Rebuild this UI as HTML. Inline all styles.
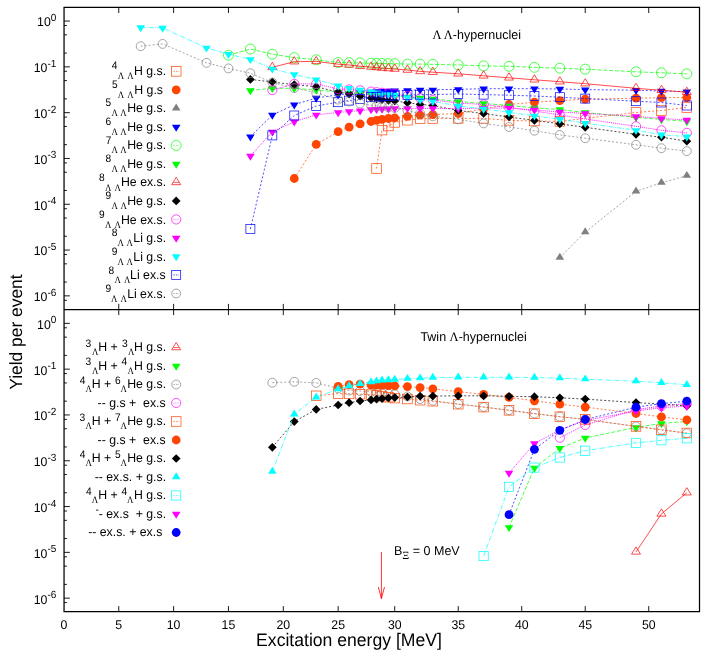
<!DOCTYPE html>
<html><head><meta charset="utf-8"><title>Yield per event</title>
<style>html,body{margin:0;padding:0;background:#fff}svg{display:block;will-change:transform}text{fill:#000;text-rendering:geometricPrecision}</style>
</head><body>
<svg width="706" height="660" viewBox="0 0 706 660">
<rect width="706" height="660" fill="#fff"/>
<g id="top-data">
<path d="M376.55 168.5L382.03 130.1L388.38 126L394.73 122.4L407.43 120.2L420.13 118.8L432.83 118.5L458.23 118.4L483.63 118.4L509.03 120.4L534.43 121L559.83 121.4L585.23 118.4L636.03 112.5L661.43 110.5L686.83 107.5" fill="none" stroke="#ff4500" stroke-width="0.7" stroke-dasharray="2 2"/>
<rect x="371.75" y="163.7" width="9.6" height="9.6" fill="none" stroke="#ff4500" stroke-width="0.7"/>
<rect x="377.23" y="125.3" width="9.6" height="9.6" fill="none" stroke="#ff4500" stroke-width="0.7"/>
<rect x="383.58" y="121.2" width="9.6" height="9.6" fill="none" stroke="#ff4500" stroke-width="0.7"/>
<rect x="389.93" y="117.6" width="9.6" height="9.6" fill="none" stroke="#ff4500" stroke-width="0.7"/>
<rect x="402.63" y="115.4" width="9.6" height="9.6" fill="none" stroke="#ff4500" stroke-width="0.7"/>
<rect x="415.33" y="114" width="9.6" height="9.6" fill="none" stroke="#ff4500" stroke-width="0.7"/>
<rect x="428.03" y="113.7" width="9.6" height="9.6" fill="none" stroke="#ff4500" stroke-width="0.7"/>
<rect x="453.43" y="113.6" width="9.6" height="9.6" fill="none" stroke="#ff4500" stroke-width="0.7"/>
<rect x="478.83" y="113.6" width="9.6" height="9.6" fill="none" stroke="#ff4500" stroke-width="0.7"/>
<rect x="504.23" y="115.6" width="9.6" height="9.6" fill="none" stroke="#ff4500" stroke-width="0.7"/>
<rect x="529.63" y="116.2" width="9.6" height="9.6" fill="none" stroke="#ff4500" stroke-width="0.7"/>
<rect x="555.03" y="116.6" width="9.6" height="9.6" fill="none" stroke="#ff4500" stroke-width="0.7"/>
<rect x="580.43" y="113.6" width="9.6" height="9.6" fill="none" stroke="#ff4500" stroke-width="0.7"/>
<rect x="631.23" y="107.7" width="9.6" height="9.6" fill="none" stroke="#ff4500" stroke-width="0.7"/>
<rect x="656.63" y="105.7" width="9.6" height="9.6" fill="none" stroke="#ff4500" stroke-width="0.7"/>
<rect x="682.03" y="102.7" width="9.6" height="9.6" fill="none" stroke="#ff4500" stroke-width="0.7"/>
<path d="M294.27 178.5L316.21 144.3L338.15 131.7L349.12 127.2L360.09 123.9L371.06 121.5L376.55 120.4L382.03 119.4L388.38 118.5L394.73 117.8L407.43 116.3L420.13 115.1L432.83 114.6L458.23 113.5L483.63 108.9L509.03 104.5L534.43 102.2L559.83 100.6L585.23 99.2L636.03 98.2L661.43 97.6L686.83 97.6" fill="none" stroke="#ff4500" stroke-width="0.7" stroke-dasharray="2 2"/>
<circle cx="294.27" cy="178.5" r="4.4" fill="#ff4500"/>
<circle cx="316.21" cy="144.3" r="4.4" fill="#ff4500"/>
<circle cx="338.15" cy="131.7" r="4.4" fill="#ff4500"/>
<circle cx="349.12" cy="127.2" r="4.4" fill="#ff4500"/>
<circle cx="360.09" cy="123.9" r="4.4" fill="#ff4500"/>
<circle cx="371.06" cy="121.5" r="4.4" fill="#ff4500"/>
<circle cx="376.55" cy="120.4" r="4.4" fill="#ff4500"/>
<circle cx="382.03" cy="119.4" r="4.4" fill="#ff4500"/>
<circle cx="388.38" cy="118.5" r="4.4" fill="#ff4500"/>
<circle cx="394.73" cy="117.8" r="4.4" fill="#ff4500"/>
<circle cx="407.43" cy="116.3" r="4.4" fill="#ff4500"/>
<circle cx="420.13" cy="115.1" r="4.4" fill="#ff4500"/>
<circle cx="432.83" cy="114.6" r="4.4" fill="#ff4500"/>
<circle cx="458.23" cy="113.5" r="4.4" fill="#ff4500"/>
<circle cx="483.63" cy="108.9" r="4.4" fill="#ff4500"/>
<circle cx="509.03" cy="104.5" r="4.4" fill="#ff4500"/>
<circle cx="534.43" cy="102.2" r="4.4" fill="#ff4500"/>
<circle cx="559.83" cy="100.6" r="4.4" fill="#ff4500"/>
<circle cx="585.23" cy="99.2" r="4.4" fill="#ff4500"/>
<circle cx="636.03" cy="98.2" r="4.4" fill="#ff4500"/>
<circle cx="661.43" cy="97.6" r="4.4" fill="#ff4500"/>
<circle cx="686.83" cy="97.6" r="4.4" fill="#ff4500"/>
<path d="M559.83 257.5L585.23 232.1L636.03 191.4L661.43 182.7L686.83 175.7" fill="none" stroke="#808080" stroke-width="0.7" stroke-dasharray="2 2"/>
<path d="M559.83 252.68L555.53 259.65L564.13 259.65Z" fill="#808080"/>
<path d="M585.23 227.28L580.93 234.25L589.53 234.25Z" fill="#808080"/>
<path d="M636.03 186.58L631.73 193.55L640.33 193.55Z" fill="#808080"/>
<path d="M661.43 177.88L657.13 184.85L665.73 184.85Z" fill="#808080"/>
<path d="M686.83 170.88L682.53 177.85L691.13 177.85Z" fill="#808080"/>
<path d="M250.39 136.7L272.33 115L294.27 104.7L316.21 98L338.15 94.8L349.12 93.6L360.09 92.6L371.06 91.8L376.55 91.5L382.03 91.2L388.38 90.9L394.73 90.6L407.43 90.3L420.13 89.8L432.83 89.8L458.23 89.3L483.63 88.7L509.03 88.7L534.43 88.7L559.83 89L585.23 89.6L636.03 90.2L661.43 91L686.83 91.6" fill="none" stroke="#0000ff" stroke-width="0.7" stroke-dasharray="2 2"/>
<path d="M250.39 141.52L246.09 134.55L254.69 134.55Z" fill="#0000ff"/>
<path d="M272.33 119.82L268.03 112.85L276.63 112.85Z" fill="#0000ff"/>
<path d="M294.27 109.52L289.97 102.55L298.57 102.55Z" fill="#0000ff"/>
<path d="M316.21 102.82L311.91 95.85L320.51 95.85Z" fill="#0000ff"/>
<path d="M338.15 99.62L333.85 92.65L342.45 92.65Z" fill="#0000ff"/>
<path d="M349.12 98.42L344.82 91.45L353.42 91.45Z" fill="#0000ff"/>
<path d="M360.09 97.42L355.79 90.45L364.39 90.45Z" fill="#0000ff"/>
<path d="M371.06 96.62L366.76 89.65L375.36 89.65Z" fill="#0000ff"/>
<path d="M376.55 96.32L372.25 89.35L380.85 89.35Z" fill="#0000ff"/>
<path d="M382.03 96.02L377.73 89.05L386.33 89.05Z" fill="#0000ff"/>
<path d="M388.38 95.72L384.08 88.75L392.68 88.75Z" fill="#0000ff"/>
<path d="M394.73 95.42L390.43 88.45L399.03 88.45Z" fill="#0000ff"/>
<path d="M407.43 95.12L403.13 88.15L411.73 88.15Z" fill="#0000ff"/>
<path d="M420.13 94.62L415.83 87.65L424.43 87.65Z" fill="#0000ff"/>
<path d="M432.83 94.62L428.53 87.65L437.13 87.65Z" fill="#0000ff"/>
<path d="M458.23 94.12L453.93 87.15L462.53 87.15Z" fill="#0000ff"/>
<path d="M483.63 93.52L479.33 86.55L487.93 86.55Z" fill="#0000ff"/>
<path d="M509.03 93.52L504.73 86.55L513.33 86.55Z" fill="#0000ff"/>
<path d="M534.43 93.52L530.13 86.55L538.73 86.55Z" fill="#0000ff"/>
<path d="M559.83 93.82L555.53 86.85L564.13 86.85Z" fill="#0000ff"/>
<path d="M585.23 94.42L580.93 87.45L589.53 87.45Z" fill="#0000ff"/>
<path d="M636.03 95.02L631.73 88.05L640.33 88.05Z" fill="#0000ff"/>
<path d="M661.43 95.82L657.13 88.85L665.73 88.85Z" fill="#0000ff"/>
<path d="M686.83 96.42L682.53 89.45L691.13 89.45Z" fill="#0000ff"/>
<path d="M228.45 55.2L250.39 49L272.33 54.2L294.27 57.6L316.21 59.8L338.15 62.5L349.12 62.7L360.09 62.9L371.06 63.2L376.55 63.4L382.03 63.5L388.38 63.6L394.73 63.7L407.43 64.1L420.13 64.1L432.83 64.4L458.23 64.9L483.63 65.9L509.03 66.3L534.43 67.3L559.83 68.2L585.23 69.2L636.03 71.8L661.43 72.8L686.83 73.8" fill="none" stroke="#00ff00" stroke-width="0.7" stroke-dasharray="4 1.8"/>
<circle cx="228.45" cy="55.2" r="5" fill="none" stroke="#00ff00" stroke-width="0.7"/>
<circle cx="250.39" cy="49" r="5" fill="none" stroke="#00ff00" stroke-width="0.7"/>
<circle cx="272.33" cy="54.2" r="5" fill="none" stroke="#00ff00" stroke-width="0.7"/>
<circle cx="294.27" cy="57.6" r="5" fill="none" stroke="#00ff00" stroke-width="0.7"/>
<circle cx="316.21" cy="59.8" r="5" fill="none" stroke="#00ff00" stroke-width="0.7"/>
<circle cx="338.15" cy="62.5" r="5" fill="none" stroke="#00ff00" stroke-width="0.7"/>
<circle cx="349.12" cy="62.7" r="5" fill="none" stroke="#00ff00" stroke-width="0.7"/>
<circle cx="360.09" cy="62.9" r="5" fill="none" stroke="#00ff00" stroke-width="0.7"/>
<circle cx="371.06" cy="63.2" r="5" fill="none" stroke="#00ff00" stroke-width="0.7"/>
<circle cx="376.55" cy="63.4" r="5" fill="none" stroke="#00ff00" stroke-width="0.7"/>
<circle cx="382.03" cy="63.5" r="5" fill="none" stroke="#00ff00" stroke-width="0.7"/>
<circle cx="388.38" cy="63.6" r="5" fill="none" stroke="#00ff00" stroke-width="0.7"/>
<circle cx="394.73" cy="63.7" r="5" fill="none" stroke="#00ff00" stroke-width="0.7"/>
<circle cx="407.43" cy="64.1" r="5" fill="none" stroke="#00ff00" stroke-width="0.7"/>
<circle cx="420.13" cy="64.1" r="5" fill="none" stroke="#00ff00" stroke-width="0.7"/>
<circle cx="432.83" cy="64.4" r="5" fill="none" stroke="#00ff00" stroke-width="0.7"/>
<circle cx="458.23" cy="64.9" r="5" fill="none" stroke="#00ff00" stroke-width="0.7"/>
<circle cx="483.63" cy="65.9" r="5" fill="none" stroke="#00ff00" stroke-width="0.7"/>
<circle cx="509.03" cy="66.3" r="5" fill="none" stroke="#00ff00" stroke-width="0.7"/>
<circle cx="534.43" cy="67.3" r="5" fill="none" stroke="#00ff00" stroke-width="0.7"/>
<circle cx="559.83" cy="68.2" r="5" fill="none" stroke="#00ff00" stroke-width="0.7"/>
<circle cx="585.23" cy="69.2" r="5" fill="none" stroke="#00ff00" stroke-width="0.7"/>
<circle cx="636.03" cy="71.8" r="5" fill="none" stroke="#00ff00" stroke-width="0.7"/>
<circle cx="661.43" cy="72.8" r="5" fill="none" stroke="#00ff00" stroke-width="0.7"/>
<circle cx="686.83" cy="73.8" r="5" fill="none" stroke="#00ff00" stroke-width="0.7"/>
<path d="M250.39 90.5L272.33 88.3L294.27 88.3L316.21 90L338.15 92L349.12 92.8L360.09 93.6L371.06 94.4L376.55 94.8L382.03 95.2L388.38 95.6L394.73 96L407.43 97L420.13 98L432.83 99L458.23 101.5L483.63 103.5L509.03 105.5L534.43 107.9L559.83 109.5L585.23 112.5L636.03 117.4L661.43 119.4L686.83 121.4" fill="none" stroke="#00ff00" stroke-width="0.7" stroke-dasharray="4 1.8"/>
<path d="M250.39 95.32L246.09 88.35L254.69 88.35Z" fill="#00ff00"/>
<path d="M272.33 93.12L268.03 86.15L276.63 86.15Z" fill="#00ff00"/>
<path d="M294.27 93.12L289.97 86.15L298.57 86.15Z" fill="#00ff00"/>
<path d="M316.21 94.82L311.91 87.85L320.51 87.85Z" fill="#00ff00"/>
<path d="M338.15 96.82L333.85 89.85L342.45 89.85Z" fill="#00ff00"/>
<path d="M349.12 97.62L344.82 90.65L353.42 90.65Z" fill="#00ff00"/>
<path d="M360.09 98.42L355.79 91.45L364.39 91.45Z" fill="#00ff00"/>
<path d="M371.06 99.22L366.76 92.25L375.36 92.25Z" fill="#00ff00"/>
<path d="M376.55 99.62L372.25 92.65L380.85 92.65Z" fill="#00ff00"/>
<path d="M382.03 100.02L377.73 93.05L386.33 93.05Z" fill="#00ff00"/>
<path d="M388.38 100.42L384.08 93.45L392.68 93.45Z" fill="#00ff00"/>
<path d="M394.73 100.82L390.43 93.85L399.03 93.85Z" fill="#00ff00"/>
<path d="M407.43 101.82L403.13 94.85L411.73 94.85Z" fill="#00ff00"/>
<path d="M420.13 102.82L415.83 95.85L424.43 95.85Z" fill="#00ff00"/>
<path d="M432.83 103.82L428.53 96.85L437.13 96.85Z" fill="#00ff00"/>
<path d="M458.23 106.32L453.93 99.35L462.53 99.35Z" fill="#00ff00"/>
<path d="M483.63 108.32L479.33 101.35L487.93 101.35Z" fill="#00ff00"/>
<path d="M509.03 110.32L504.73 103.35L513.33 103.35Z" fill="#00ff00"/>
<path d="M534.43 112.72L530.13 105.75L538.73 105.75Z" fill="#00ff00"/>
<path d="M559.83 114.32L555.53 107.35L564.13 107.35Z" fill="#00ff00"/>
<path d="M585.23 117.32L580.93 110.35L589.53 110.35Z" fill="#00ff00"/>
<path d="M636.03 122.22L631.73 115.25L640.33 115.25Z" fill="#00ff00"/>
<path d="M661.43 124.22L657.13 117.25L665.73 117.25Z" fill="#00ff00"/>
<path d="M686.83 126.22L682.53 119.25L691.13 119.25Z" fill="#00ff00"/>
<path d="M272.33 67.3L294.27 61.7L316.21 61.4L338.15 64.2L349.12 65L360.09 66.3L371.06 67L376.55 67.5L382.03 68L388.38 68.5L394.73 69L407.43 70L420.13 71.4L432.83 72.2L458.23 73.8L483.63 75.8L509.03 77.8L534.43 79.8L559.83 81.7L585.23 83.7L636.03 88.3L661.43 90.3L686.83 92.2" fill="none" stroke="#ff0000" stroke-width="0.7"/>
<path d="M272.33 62.26L267.83 69.55L276.83 69.55Z" fill="none" stroke="#ff0000" stroke-width="0.7"/>
<path d="M294.27 56.66L289.77 63.95L298.77 63.95Z" fill="none" stroke="#ff0000" stroke-width="0.7"/>
<path d="M316.21 56.36L311.71 63.65L320.71 63.65Z" fill="none" stroke="#ff0000" stroke-width="0.7"/>
<path d="M338.15 59.16L333.65 66.45L342.65 66.45Z" fill="none" stroke="#ff0000" stroke-width="0.7"/>
<path d="M349.12 59.96L344.62 67.25L353.62 67.25Z" fill="none" stroke="#ff0000" stroke-width="0.7"/>
<path d="M360.09 61.26L355.59 68.55L364.59 68.55Z" fill="none" stroke="#ff0000" stroke-width="0.7"/>
<path d="M371.06 61.96L366.56 69.25L375.56 69.25Z" fill="none" stroke="#ff0000" stroke-width="0.7"/>
<path d="M376.55 62.46L372.05 69.75L381.05 69.75Z" fill="none" stroke="#ff0000" stroke-width="0.7"/>
<path d="M382.03 62.96L377.53 70.25L386.53 70.25Z" fill="none" stroke="#ff0000" stroke-width="0.7"/>
<path d="M388.38 63.46L383.88 70.75L392.88 70.75Z" fill="none" stroke="#ff0000" stroke-width="0.7"/>
<path d="M394.73 63.96L390.23 71.25L399.23 71.25Z" fill="none" stroke="#ff0000" stroke-width="0.7"/>
<path d="M407.43 64.96L402.93 72.25L411.93 72.25Z" fill="none" stroke="#ff0000" stroke-width="0.7"/>
<path d="M420.13 66.36L415.63 73.65L424.63 73.65Z" fill="none" stroke="#ff0000" stroke-width="0.7"/>
<path d="M432.83 67.16L428.33 74.45L437.33 74.45Z" fill="none" stroke="#ff0000" stroke-width="0.7"/>
<path d="M458.23 68.76L453.73 76.05L462.73 76.05Z" fill="none" stroke="#ff0000" stroke-width="0.7"/>
<path d="M483.63 70.76L479.13 78.05L488.13 78.05Z" fill="none" stroke="#ff0000" stroke-width="0.7"/>
<path d="M509.03 72.76L504.53 80.05L513.53 80.05Z" fill="none" stroke="#ff0000" stroke-width="0.7"/>
<path d="M534.43 74.76L529.93 82.05L538.93 82.05Z" fill="none" stroke="#ff0000" stroke-width="0.7"/>
<path d="M559.83 76.66L555.33 83.95L564.33 83.95Z" fill="none" stroke="#ff0000" stroke-width="0.7"/>
<path d="M585.23 78.66L580.73 85.95L589.73 85.95Z" fill="none" stroke="#ff0000" stroke-width="0.7"/>
<path d="M636.03 83.26L631.53 90.55L640.53 90.55Z" fill="none" stroke="#ff0000" stroke-width="0.7"/>
<path d="M661.43 85.26L656.93 92.55L665.93 92.55Z" fill="none" stroke="#ff0000" stroke-width="0.7"/>
<path d="M686.83 87.16L682.33 94.45L691.33 94.45Z" fill="none" stroke="#ff0000" stroke-width="0.7"/>
<path d="M250.39 79.4L272.33 82L294.27 84.7L316.21 86.7L338.15 92.2L349.12 93.9L360.09 96.2L371.06 98L376.55 98.8L382.03 99.6L388.38 100.3L394.73 101L407.43 102.7L420.13 104.4L432.83 105.5L458.23 110.5L483.63 113.5L509.03 117L534.43 120.4L559.83 123.8L585.23 127.3L636.03 134.3L661.43 137.2L686.83 141.2" fill="none" stroke="#000000" stroke-width="0.7" stroke-dasharray="2 2"/>
<path d="M250.39 75.05L246.04 79.4L250.39 83.75L254.74 79.4Z" fill="#000000"/>
<path d="M272.33 77.65L267.98 82L272.33 86.35L276.68 82Z" fill="#000000"/>
<path d="M294.27 80.35L289.92 84.7L294.27 89.05L298.62 84.7Z" fill="#000000"/>
<path d="M316.21 82.35L311.86 86.7L316.21 91.05L320.56 86.7Z" fill="#000000"/>
<path d="M338.15 87.85L333.8 92.2L338.15 96.55L342.5 92.2Z" fill="#000000"/>
<path d="M349.12 89.55L344.77 93.9L349.12 98.25L353.47 93.9Z" fill="#000000"/>
<path d="M360.09 91.85L355.74 96.2L360.09 100.55L364.44 96.2Z" fill="#000000"/>
<path d="M371.06 93.65L366.71 98L371.06 102.35L375.41 98Z" fill="#000000"/>
<path d="M376.55 94.45L372.19 98.8L376.55 103.15L380.9 98.8Z" fill="#000000"/>
<path d="M382.03 95.25L377.68 99.6L382.03 103.95L386.38 99.6Z" fill="#000000"/>
<path d="M388.38 95.95L384.03 100.3L388.38 104.65L392.73 100.3Z" fill="#000000"/>
<path d="M394.73 96.65L390.38 101L394.73 105.35L399.08 101Z" fill="#000000"/>
<path d="M407.43 98.35L403.08 102.7L407.43 107.05L411.78 102.7Z" fill="#000000"/>
<path d="M420.13 100.05L415.78 104.4L420.13 108.75L424.48 104.4Z" fill="#000000"/>
<path d="M432.83 101.15L428.48 105.5L432.83 109.85L437.18 105.5Z" fill="#000000"/>
<path d="M458.23 106.15L453.88 110.5L458.23 114.85L462.58 110.5Z" fill="#000000"/>
<path d="M483.63 109.15L479.28 113.5L483.63 117.85L487.98 113.5Z" fill="#000000"/>
<path d="M509.03 112.65L504.68 117L509.03 121.35L513.38 117Z" fill="#000000"/>
<path d="M534.43 116.05L530.08 120.4L534.43 124.75L538.78 120.4Z" fill="#000000"/>
<path d="M559.83 119.45L555.48 123.8L559.83 128.15L564.18 123.8Z" fill="#000000"/>
<path d="M585.23 122.95L580.88 127.3L585.23 131.65L589.58 127.3Z" fill="#000000"/>
<path d="M636.03 129.95L631.68 134.3L636.03 138.65L640.38 134.3Z" fill="#000000"/>
<path d="M661.43 132.85L657.08 137.2L661.43 141.55L665.78 137.2Z" fill="#000000"/>
<path d="M686.83 136.85L682.48 141.2L686.83 145.55L691.18 141.2Z" fill="#000000"/>
<path d="M272.33 90L294.27 83.9L316.21 83.9L338.15 89L349.12 89.4L360.09 90.3L371.06 91.6L376.55 92.2L382.03 92.8L388.38 93.4L394.73 94L407.43 96L420.13 98L432.83 100L458.23 103L483.63 104.5L509.03 107.5L534.43 111L559.83 115L585.23 119L636.03 126.3L661.43 130.3L686.83 132.9" fill="none" stroke="#ff00ff" stroke-width="0.9" stroke-dasharray="1 1.1"/>
<circle cx="272.33" cy="90" r="4.6" fill="none" stroke="#ff00ff" stroke-width="0.7"/>
<circle cx="294.27" cy="83.9" r="4.6" fill="none" stroke="#ff00ff" stroke-width="0.7"/>
<circle cx="316.21" cy="83.9" r="4.6" fill="none" stroke="#ff00ff" stroke-width="0.7"/>
<circle cx="338.15" cy="89" r="4.6" fill="none" stroke="#ff00ff" stroke-width="0.7"/>
<circle cx="349.12" cy="89.4" r="4.6" fill="none" stroke="#ff00ff" stroke-width="0.7"/>
<circle cx="360.09" cy="90.3" r="4.6" fill="none" stroke="#ff00ff" stroke-width="0.7"/>
<circle cx="371.06" cy="91.6" r="4.6" fill="none" stroke="#ff00ff" stroke-width="0.7"/>
<circle cx="376.55" cy="92.2" r="4.6" fill="none" stroke="#ff00ff" stroke-width="0.7"/>
<circle cx="382.03" cy="92.8" r="4.6" fill="none" stroke="#ff00ff" stroke-width="0.7"/>
<circle cx="388.38" cy="93.4" r="4.6" fill="none" stroke="#ff00ff" stroke-width="0.7"/>
<circle cx="394.73" cy="94" r="4.6" fill="none" stroke="#ff00ff" stroke-width="0.7"/>
<circle cx="407.43" cy="96" r="4.6" fill="none" stroke="#ff00ff" stroke-width="0.7"/>
<circle cx="420.13" cy="98" r="4.6" fill="none" stroke="#ff00ff" stroke-width="0.7"/>
<circle cx="432.83" cy="100" r="4.6" fill="none" stroke="#ff00ff" stroke-width="0.7"/>
<circle cx="458.23" cy="103" r="4.6" fill="none" stroke="#ff00ff" stroke-width="0.7"/>
<circle cx="483.63" cy="104.5" r="4.6" fill="none" stroke="#ff00ff" stroke-width="0.7"/>
<circle cx="509.03" cy="107.5" r="4.6" fill="none" stroke="#ff00ff" stroke-width="0.7"/>
<circle cx="534.43" cy="111" r="4.6" fill="none" stroke="#ff00ff" stroke-width="0.7"/>
<circle cx="559.83" cy="115" r="4.6" fill="none" stroke="#ff00ff" stroke-width="0.7"/>
<circle cx="585.23" cy="119" r="4.6" fill="none" stroke="#ff00ff" stroke-width="0.7"/>
<circle cx="636.03" cy="126.3" r="4.6" fill="none" stroke="#ff00ff" stroke-width="0.7"/>
<circle cx="661.43" cy="130.3" r="4.6" fill="none" stroke="#ff00ff" stroke-width="0.7"/>
<circle cx="686.83" cy="132.9" r="4.6" fill="none" stroke="#ff00ff" stroke-width="0.7"/>
<path d="M250.39 156L272.33 131.8L294.27 121.7L316.21 114.8L338.15 112.5L349.12 111.5L360.09 110.7L371.06 109.5L376.55 109.2L382.03 109L388.38 108.7L394.73 108.5L407.43 108.5L420.13 108.5L432.83 108.5L458.23 108.5L483.63 108.2L509.03 108L534.43 110L559.83 112L585.23 113.4L636.03 116.4L661.43 118.4L686.83 120" fill="none" stroke="#ff00ff" stroke-width="0.9" stroke-dasharray="1 1.1"/>
<path d="M250.39 160.82L246.09 153.85L254.69 153.85Z" fill="#ff00ff"/>
<path d="M272.33 136.62L268.03 129.65L276.63 129.65Z" fill="#ff00ff"/>
<path d="M294.27 126.52L289.97 119.55L298.57 119.55Z" fill="#ff00ff"/>
<path d="M316.21 119.62L311.91 112.65L320.51 112.65Z" fill="#ff00ff"/>
<path d="M338.15 117.32L333.85 110.35L342.45 110.35Z" fill="#ff00ff"/>
<path d="M349.12 116.32L344.82 109.35L353.42 109.35Z" fill="#ff00ff"/>
<path d="M360.09 115.52L355.79 108.55L364.39 108.55Z" fill="#ff00ff"/>
<path d="M371.06 114.32L366.76 107.35L375.36 107.35Z" fill="#ff00ff"/>
<path d="M376.55 114.02L372.25 107.05L380.85 107.05Z" fill="#ff00ff"/>
<path d="M382.03 113.82L377.73 106.85L386.33 106.85Z" fill="#ff00ff"/>
<path d="M388.38 113.52L384.08 106.55L392.68 106.55Z" fill="#ff00ff"/>
<path d="M394.73 113.32L390.43 106.35L399.03 106.35Z" fill="#ff00ff"/>
<path d="M407.43 113.32L403.13 106.35L411.73 106.35Z" fill="#ff00ff"/>
<path d="M420.13 113.32L415.83 106.35L424.43 106.35Z" fill="#ff00ff"/>
<path d="M432.83 113.32L428.53 106.35L437.13 106.35Z" fill="#ff00ff"/>
<path d="M458.23 113.32L453.93 106.35L462.53 106.35Z" fill="#ff00ff"/>
<path d="M483.63 113.02L479.33 106.05L487.93 106.05Z" fill="#ff00ff"/>
<path d="M509.03 112.82L504.73 105.85L513.33 105.85Z" fill="#ff00ff"/>
<path d="M534.43 114.82L530.13 107.85L538.73 107.85Z" fill="#ff00ff"/>
<path d="M559.83 116.82L555.53 109.85L564.13 109.85Z" fill="#ff00ff"/>
<path d="M585.23 118.22L580.93 111.25L589.53 111.25Z" fill="#ff00ff"/>
<path d="M636.03 121.22L631.73 114.25L640.33 114.25Z" fill="#ff00ff"/>
<path d="M661.43 123.22L657.13 116.25L665.73 116.25Z" fill="#ff00ff"/>
<path d="M686.83 124.82L682.53 117.85L691.13 117.85Z" fill="#ff00ff"/>
<path d="M140.69 27.4L162.63 27.9L206.51 47.8L228.45 54.2L250.39 59.3L272.33 68.8L294.27 74.4L316.21 79.6L338.15 85.7L349.12 88.2L360.09 90L371.06 91.7L376.55 92.6L382.03 93.4L388.38 94.3L394.73 95L407.43 97.5L420.13 99.8L432.83 101.3L458.23 105.9L483.63 108.9L509.03 112.4L534.43 115.8L559.83 119.2L585.23 123.2L636.03 130.3L661.43 134.7L686.83 136.6" fill="none" stroke="#00ffff" stroke-width="0.7" stroke-dasharray="4.5 1.5 0.8 1.5"/>
<path d="M140.69 32.22L136.39 25.25L144.99 25.25Z" fill="#00ffff"/>
<path d="M162.63 32.72L158.33 25.75L166.93 25.75Z" fill="#00ffff"/>
<path d="M206.51 52.62L202.21 45.65L210.81 45.65Z" fill="#00ffff"/>
<path d="M228.45 59.02L224.15 52.05L232.75 52.05Z" fill="#00ffff"/>
<path d="M250.39 64.12L246.09 57.15L254.69 57.15Z" fill="#00ffff"/>
<path d="M272.33 73.62L268.03 66.65L276.63 66.65Z" fill="#00ffff"/>
<path d="M294.27 79.22L289.97 72.25L298.57 72.25Z" fill="#00ffff"/>
<path d="M316.21 84.42L311.91 77.45L320.51 77.45Z" fill="#00ffff"/>
<path d="M338.15 90.52L333.85 83.55L342.45 83.55Z" fill="#00ffff"/>
<path d="M349.12 93.02L344.82 86.05L353.42 86.05Z" fill="#00ffff"/>
<path d="M360.09 94.82L355.79 87.85L364.39 87.85Z" fill="#00ffff"/>
<path d="M371.06 96.52L366.76 89.55L375.36 89.55Z" fill="#00ffff"/>
<path d="M376.55 97.42L372.25 90.45L380.85 90.45Z" fill="#00ffff"/>
<path d="M382.03 98.22L377.73 91.25L386.33 91.25Z" fill="#00ffff"/>
<path d="M388.38 99.12L384.08 92.15L392.68 92.15Z" fill="#00ffff"/>
<path d="M394.73 99.82L390.43 92.85L399.03 92.85Z" fill="#00ffff"/>
<path d="M407.43 102.32L403.13 95.35L411.73 95.35Z" fill="#00ffff"/>
<path d="M420.13 104.62L415.83 97.65L424.43 97.65Z" fill="#00ffff"/>
<path d="M432.83 106.12L428.53 99.15L437.13 99.15Z" fill="#00ffff"/>
<path d="M458.23 110.72L453.93 103.75L462.53 103.75Z" fill="#00ffff"/>
<path d="M483.63 113.72L479.33 106.75L487.93 106.75Z" fill="#00ffff"/>
<path d="M509.03 117.22L504.73 110.25L513.33 110.25Z" fill="#00ffff"/>
<path d="M534.43 120.62L530.13 113.65L538.73 113.65Z" fill="#00ffff"/>
<path d="M559.83 124.02L555.53 117.05L564.13 117.05Z" fill="#00ffff"/>
<path d="M585.23 128.02L580.93 121.05L589.53 121.05Z" fill="#00ffff"/>
<path d="M636.03 135.12L631.73 128.15L640.33 128.15Z" fill="#00ffff"/>
<path d="M661.43 139.52L657.13 132.55L665.73 132.55Z" fill="#00ffff"/>
<path d="M686.83 141.42L682.53 134.45L691.13 134.45Z" fill="#00ffff"/>
<path d="M250.39 229L272.33 135.4L294.27 115.5L316.21 106L338.15 102.2L349.12 100.6L360.09 99L371.06 97.2L376.55 96.8L382.03 96.4L388.38 96L394.73 95.6L407.43 95L420.13 94.7L432.83 94.5L458.23 94L483.63 94.6L509.03 95.2L534.43 96L559.83 97.2L585.23 98.6L636.03 101.2L661.43 102.5L686.83 105.5" fill="none" stroke="#0000ff" stroke-width="0.7" stroke-dasharray="2 2"/>
<rect x="245.89" y="224.5" width="9" height="9" fill="none" stroke="#0000ff" stroke-width="0.7"/>
<rect x="267.83" y="130.9" width="9" height="9" fill="none" stroke="#0000ff" stroke-width="0.7"/>
<rect x="289.77" y="111" width="9" height="9" fill="none" stroke="#0000ff" stroke-width="0.7"/>
<rect x="311.71" y="101.5" width="9" height="9" fill="none" stroke="#0000ff" stroke-width="0.7"/>
<rect x="333.65" y="97.7" width="9" height="9" fill="none" stroke="#0000ff" stroke-width="0.7"/>
<rect x="344.62" y="96.1" width="9" height="9" fill="none" stroke="#0000ff" stroke-width="0.7"/>
<rect x="355.59" y="94.5" width="9" height="9" fill="none" stroke="#0000ff" stroke-width="0.7"/>
<rect x="366.56" y="92.7" width="9" height="9" fill="none" stroke="#0000ff" stroke-width="0.7"/>
<rect x="372.05" y="92.3" width="9" height="9" fill="none" stroke="#0000ff" stroke-width="0.7"/>
<rect x="377.53" y="91.9" width="9" height="9" fill="none" stroke="#0000ff" stroke-width="0.7"/>
<rect x="383.88" y="91.5" width="9" height="9" fill="none" stroke="#0000ff" stroke-width="0.7"/>
<rect x="390.23" y="91.1" width="9" height="9" fill="none" stroke="#0000ff" stroke-width="0.7"/>
<rect x="402.93" y="90.5" width="9" height="9" fill="none" stroke="#0000ff" stroke-width="0.7"/>
<rect x="415.63" y="90.2" width="9" height="9" fill="none" stroke="#0000ff" stroke-width="0.7"/>
<rect x="428.33" y="90" width="9" height="9" fill="none" stroke="#0000ff" stroke-width="0.7"/>
<rect x="453.73" y="89.5" width="9" height="9" fill="none" stroke="#0000ff" stroke-width="0.7"/>
<rect x="479.13" y="90.1" width="9" height="9" fill="none" stroke="#0000ff" stroke-width="0.7"/>
<rect x="504.53" y="90.7" width="9" height="9" fill="none" stroke="#0000ff" stroke-width="0.7"/>
<rect x="529.93" y="91.5" width="9" height="9" fill="none" stroke="#0000ff" stroke-width="0.7"/>
<rect x="555.33" y="92.7" width="9" height="9" fill="none" stroke="#0000ff" stroke-width="0.7"/>
<rect x="580.73" y="94.1" width="9" height="9" fill="none" stroke="#0000ff" stroke-width="0.7"/>
<rect x="631.53" y="96.7" width="9" height="9" fill="none" stroke="#0000ff" stroke-width="0.7"/>
<rect x="656.93" y="98" width="9" height="9" fill="none" stroke="#0000ff" stroke-width="0.7"/>
<rect x="682.33" y="101" width="9" height="9" fill="none" stroke="#0000ff" stroke-width="0.7"/>
<path d="M140.69 46.2L162.63 43.9L206.51 62.8L228.45 68.4L250.39 73.2L272.33 82.5L294.27 88L316.21 92.7L338.15 99.6L349.12 101.5L360.09 103.5L371.06 105.2L376.55 105.9L382.03 106.6L388.38 107.3L394.73 108L407.43 110.5L420.13 113.5L432.83 116.3L458.23 119.4L483.63 123.4L509.03 127L534.43 130.7L559.83 134.9L585.23 138.2L636.03 144.8L661.43 148.2L686.83 151.1" fill="none" stroke="#808080" stroke-width="0.7" stroke-dasharray="2 2"/>
<circle cx="140.69" cy="46.2" r="4.45" fill="none" stroke="#808080" stroke-width="0.7"/>
<circle cx="162.63" cy="43.9" r="4.45" fill="none" stroke="#808080" stroke-width="0.7"/>
<circle cx="206.51" cy="62.8" r="4.45" fill="none" stroke="#808080" stroke-width="0.7"/>
<circle cx="228.45" cy="68.4" r="4.45" fill="none" stroke="#808080" stroke-width="0.7"/>
<circle cx="250.39" cy="73.2" r="4.45" fill="none" stroke="#808080" stroke-width="0.7"/>
<circle cx="272.33" cy="82.5" r="4.45" fill="none" stroke="#808080" stroke-width="0.7"/>
<circle cx="294.27" cy="88" r="4.45" fill="none" stroke="#808080" stroke-width="0.7"/>
<circle cx="316.21" cy="92.7" r="4.45" fill="none" stroke="#808080" stroke-width="0.7"/>
<circle cx="338.15" cy="99.6" r="4.45" fill="none" stroke="#808080" stroke-width="0.7"/>
<circle cx="349.12" cy="101.5" r="4.45" fill="none" stroke="#808080" stroke-width="0.7"/>
<circle cx="360.09" cy="103.5" r="4.45" fill="none" stroke="#808080" stroke-width="0.7"/>
<circle cx="371.06" cy="105.2" r="4.45" fill="none" stroke="#808080" stroke-width="0.7"/>
<circle cx="376.55" cy="105.9" r="4.45" fill="none" stroke="#808080" stroke-width="0.7"/>
<circle cx="382.03" cy="106.6" r="4.45" fill="none" stroke="#808080" stroke-width="0.7"/>
<circle cx="388.38" cy="107.3" r="4.45" fill="none" stroke="#808080" stroke-width="0.7"/>
<circle cx="394.73" cy="108" r="4.45" fill="none" stroke="#808080" stroke-width="0.7"/>
<circle cx="407.43" cy="110.5" r="4.45" fill="none" stroke="#808080" stroke-width="0.7"/>
<circle cx="420.13" cy="113.5" r="4.45" fill="none" stroke="#808080" stroke-width="0.7"/>
<circle cx="432.83" cy="116.3" r="4.45" fill="none" stroke="#808080" stroke-width="0.7"/>
<circle cx="458.23" cy="119.4" r="4.45" fill="none" stroke="#808080" stroke-width="0.7"/>
<circle cx="483.63" cy="123.4" r="4.45" fill="none" stroke="#808080" stroke-width="0.7"/>
<circle cx="509.03" cy="127" r="4.45" fill="none" stroke="#808080" stroke-width="0.7"/>
<circle cx="534.43" cy="130.7" r="4.45" fill="none" stroke="#808080" stroke-width="0.7"/>
<circle cx="559.83" cy="134.9" r="4.45" fill="none" stroke="#808080" stroke-width="0.7"/>
<circle cx="585.23" cy="138.2" r="4.45" fill="none" stroke="#808080" stroke-width="0.7"/>
<circle cx="636.03" cy="144.8" r="4.45" fill="none" stroke="#808080" stroke-width="0.7"/>
<circle cx="661.43" cy="148.2" r="4.45" fill="none" stroke="#808080" stroke-width="0.7"/>
<circle cx="686.83" cy="151.1" r="4.45" fill="none" stroke="#808080" stroke-width="0.7"/>
</g>
<g id="bot-data">
<path d="M636.03 551.9L661.43 513.9L686.83 492.7" fill="none" stroke="#ff0000" stroke-width="0.7"/>
<path d="M636.03 546.86L631.53 554.15L640.53 554.15Z" fill="none" stroke="#ff0000" stroke-width="0.7"/>
<path d="M661.43 508.86L656.93 516.15L665.93 516.15Z" fill="none" stroke="#ff0000" stroke-width="0.7"/>
<path d="M686.83 487.66L682.33 494.95L691.33 494.95Z" fill="none" stroke="#ff0000" stroke-width="0.7"/>
<path d="M509.03 527.3L534.43 468L559.83 448.1L585.23 438L636.03 427.4L661.43 423.4L686.83 421.5" fill="none" stroke="#00ff00" stroke-width="0.7" stroke-dasharray="4 1.8"/>
<path d="M509.03 532.12L504.73 525.15L513.33 525.15Z" fill="#00ff00"/>
<path d="M534.43 472.82L530.13 465.85L538.73 465.85Z" fill="#00ff00"/>
<path d="M559.83 452.92L555.53 445.95L564.13 445.95Z" fill="#00ff00"/>
<path d="M585.23 442.82L580.93 435.85L589.53 435.85Z" fill="#00ff00"/>
<path d="M636.03 432.22L631.73 425.25L640.33 425.25Z" fill="#00ff00"/>
<path d="M661.43 428.22L657.13 421.25L665.73 421.25Z" fill="#00ff00"/>
<path d="M686.83 426.32L682.53 419.35L691.13 419.35Z" fill="#00ff00"/>
<path d="M272.33 382.7L294.27 381.8L316.21 382.9L338.15 388.3L349.12 390.5L360.09 391L371.06 391.9L376.55 392.4L382.03 393L388.38 393.6L394.73 394.2L407.43 396.4L420.13 399L432.83 400.7L458.23 404L483.63 407L509.03 410.2L534.43 413.5L559.83 416.7L585.23 419.4L636.03 426.4L661.43 429.8L686.83 433.3" fill="none" stroke="#808080" stroke-width="0.7" stroke-dasharray="2 2"/>
<circle cx="272.33" cy="382.7" r="4.45" fill="none" stroke="#808080" stroke-width="0.7"/>
<circle cx="294.27" cy="381.8" r="4.45" fill="none" stroke="#808080" stroke-width="0.7"/>
<circle cx="316.21" cy="382.9" r="4.45" fill="none" stroke="#808080" stroke-width="0.7"/>
<circle cx="338.15" cy="388.3" r="4.45" fill="none" stroke="#808080" stroke-width="0.7"/>
<circle cx="349.12" cy="390.5" r="4.45" fill="none" stroke="#808080" stroke-width="0.7"/>
<circle cx="360.09" cy="391" r="4.45" fill="none" stroke="#808080" stroke-width="0.7"/>
<circle cx="371.06" cy="391.9" r="4.45" fill="none" stroke="#808080" stroke-width="0.7"/>
<circle cx="376.55" cy="392.4" r="4.45" fill="none" stroke="#808080" stroke-width="0.7"/>
<circle cx="382.03" cy="393" r="4.45" fill="none" stroke="#808080" stroke-width="0.7"/>
<circle cx="388.38" cy="393.6" r="4.45" fill="none" stroke="#808080" stroke-width="0.7"/>
<circle cx="394.73" cy="394.2" r="4.45" fill="none" stroke="#808080" stroke-width="0.7"/>
<circle cx="407.43" cy="396.4" r="4.45" fill="none" stroke="#808080" stroke-width="0.7"/>
<circle cx="420.13" cy="399" r="4.45" fill="none" stroke="#808080" stroke-width="0.7"/>
<circle cx="432.83" cy="400.7" r="4.45" fill="none" stroke="#808080" stroke-width="0.7"/>
<circle cx="458.23" cy="404" r="4.45" fill="none" stroke="#808080" stroke-width="0.7"/>
<circle cx="483.63" cy="407" r="4.45" fill="none" stroke="#808080" stroke-width="0.7"/>
<circle cx="509.03" cy="410.2" r="4.45" fill="none" stroke="#808080" stroke-width="0.7"/>
<circle cx="534.43" cy="413.5" r="4.45" fill="none" stroke="#808080" stroke-width="0.7"/>
<circle cx="559.83" cy="416.7" r="4.45" fill="none" stroke="#808080" stroke-width="0.7"/>
<circle cx="585.23" cy="419.4" r="4.45" fill="none" stroke="#808080" stroke-width="0.7"/>
<circle cx="636.03" cy="426.4" r="4.45" fill="none" stroke="#808080" stroke-width="0.7"/>
<circle cx="661.43" cy="429.8" r="4.45" fill="none" stroke="#808080" stroke-width="0.7"/>
<circle cx="686.83" cy="433.3" r="4.45" fill="none" stroke="#808080" stroke-width="0.7"/>
<path d="M559.83 437.7L585.23 425L636.03 409.6L661.43 406L686.83 403.6" fill="none" stroke="#ff00ff" stroke-width="0.9" stroke-dasharray="1 1.1"/>
<circle cx="559.83" cy="437.7" r="4.6" fill="none" stroke="#ff00ff" stroke-width="0.7"/>
<circle cx="585.23" cy="425" r="4.6" fill="none" stroke="#ff00ff" stroke-width="0.7"/>
<circle cx="636.03" cy="409.6" r="4.6" fill="none" stroke="#ff00ff" stroke-width="0.7"/>
<circle cx="661.43" cy="406" r="4.6" fill="none" stroke="#ff00ff" stroke-width="0.7"/>
<circle cx="686.83" cy="403.6" r="4.6" fill="none" stroke="#ff00ff" stroke-width="0.7"/>
<path d="M316.21 395.8L338.15 393.7L349.12 393.7L360.09 394.2L371.06 394.7L376.55 395.5L382.03 396.2L388.38 397.2L394.73 398.1L407.43 399L420.13 400.2L432.83 401.2L458.23 404.2L483.63 407.1L509.03 410.3L534.43 413.7L559.83 416.7L585.23 419.4L636.03 426.4L661.43 429.8L686.83 433" fill="none" stroke="#ff4500" stroke-width="0.7" stroke-dasharray="2 2"/>
<rect x="311.41" y="391" width="9.6" height="9.6" fill="none" stroke="#ff4500" stroke-width="0.7"/>
<rect x="333.35" y="388.9" width="9.6" height="9.6" fill="none" stroke="#ff4500" stroke-width="0.7"/>
<rect x="344.32" y="388.9" width="9.6" height="9.6" fill="none" stroke="#ff4500" stroke-width="0.7"/>
<rect x="355.29" y="389.4" width="9.6" height="9.6" fill="none" stroke="#ff4500" stroke-width="0.7"/>
<rect x="366.26" y="389.9" width="9.6" height="9.6" fill="none" stroke="#ff4500" stroke-width="0.7"/>
<rect x="371.75" y="390.7" width="9.6" height="9.6" fill="none" stroke="#ff4500" stroke-width="0.7"/>
<rect x="377.23" y="391.4" width="9.6" height="9.6" fill="none" stroke="#ff4500" stroke-width="0.7"/>
<rect x="383.58" y="392.4" width="9.6" height="9.6" fill="none" stroke="#ff4500" stroke-width="0.7"/>
<rect x="389.93" y="393.3" width="9.6" height="9.6" fill="none" stroke="#ff4500" stroke-width="0.7"/>
<rect x="402.63" y="394.2" width="9.6" height="9.6" fill="none" stroke="#ff4500" stroke-width="0.7"/>
<rect x="415.33" y="395.4" width="9.6" height="9.6" fill="none" stroke="#ff4500" stroke-width="0.7"/>
<rect x="428.03" y="396.4" width="9.6" height="9.6" fill="none" stroke="#ff4500" stroke-width="0.7"/>
<rect x="453.43" y="399.4" width="9.6" height="9.6" fill="none" stroke="#ff4500" stroke-width="0.7"/>
<rect x="478.83" y="402.3" width="9.6" height="9.6" fill="none" stroke="#ff4500" stroke-width="0.7"/>
<rect x="504.23" y="405.5" width="9.6" height="9.6" fill="none" stroke="#ff4500" stroke-width="0.7"/>
<rect x="529.63" y="408.9" width="9.6" height="9.6" fill="none" stroke="#ff4500" stroke-width="0.7"/>
<rect x="555.03" y="411.9" width="9.6" height="9.6" fill="none" stroke="#ff4500" stroke-width="0.7"/>
<rect x="580.43" y="414.6" width="9.6" height="9.6" fill="none" stroke="#ff4500" stroke-width="0.7"/>
<rect x="631.23" y="421.6" width="9.6" height="9.6" fill="none" stroke="#ff4500" stroke-width="0.7"/>
<rect x="656.63" y="425" width="9.6" height="9.6" fill="none" stroke="#ff4500" stroke-width="0.7"/>
<rect x="682.03" y="428.2" width="9.6" height="9.6" fill="none" stroke="#ff4500" stroke-width="0.7"/>
<path d="M338.15 386.4L349.12 384.7L360.09 384.2L371.06 385L376.55 385.2L382.03 385.4L388.38 385.6L394.73 385.8L407.43 386.6L420.13 387.6L432.83 388.8L458.23 391.7L483.63 394.4L509.03 397.4L534.43 400.8L559.83 404.2L585.23 407.1L636.03 413.5L661.43 416.9L686.83 419.9" fill="none" stroke="#ff4500" stroke-width="0.7" stroke-dasharray="2 2"/>
<circle cx="338.15" cy="386.4" r="4.4" fill="#ff4500"/>
<circle cx="349.12" cy="384.7" r="4.4" fill="#ff4500"/>
<circle cx="360.09" cy="384.2" r="4.4" fill="#ff4500"/>
<circle cx="371.06" cy="385" r="4.4" fill="#ff4500"/>
<circle cx="376.55" cy="385.2" r="4.4" fill="#ff4500"/>
<circle cx="382.03" cy="385.4" r="4.4" fill="#ff4500"/>
<circle cx="388.38" cy="385.6" r="4.4" fill="#ff4500"/>
<circle cx="394.73" cy="385.8" r="4.4" fill="#ff4500"/>
<circle cx="407.43" cy="386.6" r="4.4" fill="#ff4500"/>
<circle cx="420.13" cy="387.6" r="4.4" fill="#ff4500"/>
<circle cx="432.83" cy="388.8" r="4.4" fill="#ff4500"/>
<circle cx="458.23" cy="391.7" r="4.4" fill="#ff4500"/>
<circle cx="483.63" cy="394.4" r="4.4" fill="#ff4500"/>
<circle cx="509.03" cy="397.4" r="4.4" fill="#ff4500"/>
<circle cx="534.43" cy="400.8" r="4.4" fill="#ff4500"/>
<circle cx="559.83" cy="404.2" r="4.4" fill="#ff4500"/>
<circle cx="585.23" cy="407.1" r="4.4" fill="#ff4500"/>
<circle cx="636.03" cy="413.5" r="4.4" fill="#ff4500"/>
<circle cx="661.43" cy="416.9" r="4.4" fill="#ff4500"/>
<circle cx="686.83" cy="419.9" r="4.4" fill="#ff4500"/>
<path d="M272.33 447.3L294.27 421.6L316.21 409.4L338.15 405L349.12 402.7L360.09 401L371.06 399.9L376.55 399.2L382.03 398.7L388.38 398L394.73 397.6L407.43 397L420.13 396.2L432.83 396.1L458.23 395.8L483.63 395.8L509.03 396.3L534.43 396.7L559.83 397.8L585.23 399.1L636.03 402.6L661.43 404L686.83 406" fill="none" stroke="#000000" stroke-width="0.7" stroke-dasharray="2 2"/>
<path d="M272.33 442.95L267.98 447.3L272.33 451.65L276.68 447.3Z" fill="#000000"/>
<path d="M294.27 417.25L289.92 421.6L294.27 425.95L298.62 421.6Z" fill="#000000"/>
<path d="M316.21 405.05L311.86 409.4L316.21 413.75L320.56 409.4Z" fill="#000000"/>
<path d="M338.15 400.65L333.8 405L338.15 409.35L342.5 405Z" fill="#000000"/>
<path d="M349.12 398.35L344.77 402.7L349.12 407.05L353.47 402.7Z" fill="#000000"/>
<path d="M360.09 396.65L355.74 401L360.09 405.35L364.44 401Z" fill="#000000"/>
<path d="M371.06 395.55L366.71 399.9L371.06 404.25L375.41 399.9Z" fill="#000000"/>
<path d="M376.55 394.85L372.19 399.2L376.55 403.55L380.9 399.2Z" fill="#000000"/>
<path d="M382.03 394.35L377.68 398.7L382.03 403.05L386.38 398.7Z" fill="#000000"/>
<path d="M388.38 393.65L384.03 398L388.38 402.35L392.73 398Z" fill="#000000"/>
<path d="M394.73 393.25L390.38 397.6L394.73 401.95L399.08 397.6Z" fill="#000000"/>
<path d="M407.43 392.65L403.08 397L407.43 401.35L411.78 397Z" fill="#000000"/>
<path d="M420.13 391.85L415.78 396.2L420.13 400.55L424.48 396.2Z" fill="#000000"/>
<path d="M432.83 391.75L428.48 396.1L432.83 400.45L437.18 396.1Z" fill="#000000"/>
<path d="M458.23 391.45L453.88 395.8L458.23 400.15L462.58 395.8Z" fill="#000000"/>
<path d="M483.63 391.45L479.28 395.8L483.63 400.15L487.98 395.8Z" fill="#000000"/>
<path d="M509.03 391.95L504.68 396.3L509.03 400.65L513.38 396.3Z" fill="#000000"/>
<path d="M534.43 392.35L530.08 396.7L534.43 401.05L538.78 396.7Z" fill="#000000"/>
<path d="M559.83 393.45L555.48 397.8L559.83 402.15L564.18 397.8Z" fill="#000000"/>
<path d="M585.23 394.75L580.88 399.1L585.23 403.45L589.58 399.1Z" fill="#000000"/>
<path d="M636.03 398.25L631.68 402.6L636.03 406.95L640.38 402.6Z" fill="#000000"/>
<path d="M661.43 399.65L657.08 404L661.43 408.35L665.78 404Z" fill="#000000"/>
<path d="M686.83 401.65L682.48 406L686.83 410.35L691.18 406Z" fill="#000000"/>
<path d="M272.33 471.6L294.27 414.3L316.21 397.3L338.15 389L349.12 386L360.09 383.8L371.06 382L376.55 381.2L382.03 380.4L388.38 380L394.73 379.5L407.43 378.7L420.13 378.2L432.83 377.6L458.23 377.3L483.63 377.3L509.03 377.3L534.43 377.5L559.83 378.2L585.23 379.2L636.03 381.2L661.43 382.8L686.83 384.8" fill="none" stroke="#00ffff" stroke-width="0.7" stroke-dasharray="4.5 1.5 0.8 1.5"/>
<path d="M272.33 466.78L268.03 473.75L276.63 473.75Z" fill="#00ffff"/>
<path d="M294.27 409.48L289.97 416.45L298.57 416.45Z" fill="#00ffff"/>
<path d="M316.21 392.48L311.91 399.45L320.51 399.45Z" fill="#00ffff"/>
<path d="M338.15 384.18L333.85 391.15L342.45 391.15Z" fill="#00ffff"/>
<path d="M349.12 381.18L344.82 388.15L353.42 388.15Z" fill="#00ffff"/>
<path d="M360.09 378.98L355.79 385.95L364.39 385.95Z" fill="#00ffff"/>
<path d="M371.06 377.18L366.76 384.15L375.36 384.15Z" fill="#00ffff"/>
<path d="M376.55 376.38L372.25 383.35L380.85 383.35Z" fill="#00ffff"/>
<path d="M382.03 375.58L377.73 382.55L386.33 382.55Z" fill="#00ffff"/>
<path d="M388.38 375.18L384.08 382.15L392.68 382.15Z" fill="#00ffff"/>
<path d="M394.73 374.68L390.43 381.65L399.03 381.65Z" fill="#00ffff"/>
<path d="M407.43 373.88L403.13 380.85L411.73 380.85Z" fill="#00ffff"/>
<path d="M420.13 373.38L415.83 380.35L424.43 380.35Z" fill="#00ffff"/>
<path d="M432.83 372.78L428.53 379.75L437.13 379.75Z" fill="#00ffff"/>
<path d="M458.23 372.48L453.93 379.45L462.53 379.45Z" fill="#00ffff"/>
<path d="M483.63 372.48L479.33 379.45L487.93 379.45Z" fill="#00ffff"/>
<path d="M509.03 372.48L504.73 379.45L513.33 379.45Z" fill="#00ffff"/>
<path d="M534.43 372.68L530.13 379.65L538.73 379.65Z" fill="#00ffff"/>
<path d="M559.83 373.38L555.53 380.35L564.13 380.35Z" fill="#00ffff"/>
<path d="M585.23 374.38L580.93 381.35L589.53 381.35Z" fill="#00ffff"/>
<path d="M636.03 376.38L631.73 383.35L640.33 383.35Z" fill="#00ffff"/>
<path d="M661.43 377.98L657.13 384.95L665.73 384.95Z" fill="#00ffff"/>
<path d="M686.83 379.98L682.53 386.95L691.13 386.95Z" fill="#00ffff"/>
<path d="M483.63 556.1L509.03 486.8L534.43 467.6L559.83 457.5L585.23 450.7L636.03 442.9L661.43 440.3L686.83 438.3" fill="none" stroke="#00ffff" stroke-width="0.7" stroke-dasharray="4.5 1.5 0.8 1.5"/>
<rect x="479.03" y="551.5" width="9.2" height="9.2" fill="none" stroke="#00ffff" stroke-width="0.7"/>
<rect x="504.43" y="482.2" width="9.2" height="9.2" fill="none" stroke="#00ffff" stroke-width="0.7"/>
<rect x="529.83" y="463" width="9.2" height="9.2" fill="none" stroke="#00ffff" stroke-width="0.7"/>
<rect x="555.23" y="452.9" width="9.2" height="9.2" fill="none" stroke="#00ffff" stroke-width="0.7"/>
<rect x="580.63" y="446.1" width="9.2" height="9.2" fill="none" stroke="#00ffff" stroke-width="0.7"/>
<rect x="631.43" y="438.3" width="9.2" height="9.2" fill="none" stroke="#00ffff" stroke-width="0.7"/>
<rect x="656.83" y="435.7" width="9.2" height="9.2" fill="none" stroke="#00ffff" stroke-width="0.7"/>
<rect x="682.23" y="433.7" width="9.2" height="9.2" fill="none" stroke="#00ffff" stroke-width="0.7"/>
<path d="M509.03 473L534.43 443.5L559.83 430L585.23 420.5L636.03 411L661.43 407.6L686.83 406.2" fill="none" stroke="#ff00ff" stroke-width="0.9" stroke-dasharray="1 1.1"/>
<path d="M509.03 477.82L504.73 470.85L513.33 470.85Z" fill="#ff00ff"/>
<path d="M534.43 448.32L530.13 441.35L538.73 441.35Z" fill="#ff00ff"/>
<path d="M559.83 434.82L555.53 427.85L564.13 427.85Z" fill="#ff00ff"/>
<path d="M585.23 425.32L580.93 418.35L589.53 418.35Z" fill="#ff00ff"/>
<path d="M636.03 415.82L631.73 408.85L640.33 408.85Z" fill="#ff00ff"/>
<path d="M661.43 412.42L657.13 405.45L665.73 405.45Z" fill="#ff00ff"/>
<path d="M686.83 411.02L682.53 404.05L691.13 404.05Z" fill="#ff00ff"/>
<path d="M509.03 514.7L534.43 449.3L559.83 430.3L585.23 419.5L636.03 407.2L661.43 403.6L686.83 401.2" fill="none" stroke="#0000ff" stroke-width="0.7" stroke-dasharray="2 2"/>
<circle cx="509.03" cy="514.7" r="4.4" fill="#0000ff"/>
<circle cx="534.43" cy="449.3" r="4.4" fill="#0000ff"/>
<circle cx="559.83" cy="430.3" r="4.4" fill="#0000ff"/>
<circle cx="585.23" cy="419.5" r="4.4" fill="#0000ff"/>
<circle cx="636.03" cy="407.2" r="4.4" fill="#0000ff"/>
<circle cx="661.43" cy="403.6" r="4.4" fill="#0000ff"/>
<circle cx="686.83" cy="401.2" r="4.4" fill="#0000ff"/>
</g>
<path d="M381.4 552V598.6M378.3 587L381.4 598.6L384.5 587" fill="none" stroke="#ff0000" stroke-width="0.8"/>
<g stroke="#000" stroke-width="1.25" fill="none">
<path d="M64.05 7.4H699.5V611.7H64.05Z"/>
<path d="M64.05 309.5H699.5"/>
</g>
<path d="M118.75 7.4v5.6M118.75 303.9v11.2M118.75 611.7v-5.6M173.6 7.4v5.6M173.6 303.9v11.2M173.6 611.7v-5.6M228.45 7.4v5.6M228.45 303.9v11.2M228.45 611.7v-5.6M283.3 7.4v5.6M283.3 303.9v11.2M283.3 611.7v-5.6M338.15 7.4v5.6M338.15 303.9v11.2M338.15 611.7v-5.6M394.73 7.4v5.6M394.73 303.9v11.2M394.73 611.7v-5.6M458.23 7.4v5.6M458.23 303.9v11.2M458.23 611.7v-5.6M521.73 7.4v5.6M521.73 303.9v11.2M521.73 611.7v-5.6M585.23 7.4v5.6M585.23 303.9v11.2M585.23 611.7v-5.6M648.73 7.4v5.6M648.73 303.9v11.2M648.73 611.7v-5.6M64.05 21.05h5.8M64.05 25.49h2.9M64.05 34.84h2.9M64.05 53.06h2.9M64.05 66.85h5.8M64.05 71.29h2.9M64.05 80.64h2.9M64.05 98.86h2.9M64.05 112.65h5.8M64.05 117.09h2.9M64.05 126.44h2.9M64.05 144.66h2.9M64.05 158.45h5.8M64.05 162.89h2.9M64.05 172.24h2.9M64.05 190.46h2.9M64.05 204.25h5.8M64.05 208.69h2.9M64.05 218.04h2.9M64.05 236.26h2.9M64.05 250.05h5.8M64.05 254.49h2.9M64.05 263.84h2.9M64.05 282.06h2.9M64.05 295.85h5.8M64.05 300.29h2.9M64.05 323.35h5.8M64.05 327.79h2.9M64.05 337.14h2.9M64.05 355.36h2.9M64.05 369.15h5.8M64.05 373.59h2.9M64.05 382.94h2.9M64.05 401.16h2.9M64.05 414.95h5.8M64.05 419.39h2.9M64.05 428.74h2.9M64.05 446.96h2.9M64.05 460.75h5.8M64.05 465.19h2.9M64.05 474.54h2.9M64.05 492.76h2.9M64.05 506.55h5.8M64.05 510.99h2.9M64.05 520.34h2.9M64.05 538.56h2.9M64.05 552.35h5.8M64.05 556.79h2.9M64.05 566.14h2.9M64.05 584.36h2.9M64.05 598.15h5.8M64.05 602.59h2.9" stroke="#000" stroke-width="0.9" fill="none"/>
<text transform="translate(63.9 628.8) scale(1 1.03)" font-family='"Liberation Sans", sans-serif' font-size="12.3" text-anchor="middle">0</text>
<text transform="translate(118.75 628.8) scale(1 1.03)" font-family='"Liberation Sans", sans-serif' font-size="12.3" text-anchor="middle">5</text>
<text transform="translate(173.6 628.8) scale(1 1.03)" font-family='"Liberation Sans", sans-serif' font-size="12.3" text-anchor="middle">10</text>
<text transform="translate(228.45 628.8) scale(1 1.03)" font-family='"Liberation Sans", sans-serif' font-size="12.3" text-anchor="middle">15</text>
<text transform="translate(283.3 628.8) scale(1 1.03)" font-family='"Liberation Sans", sans-serif' font-size="12.3" text-anchor="middle">20</text>
<text transform="translate(338.15 628.8) scale(1 1.03)" font-family='"Liberation Sans", sans-serif' font-size="12.3" text-anchor="middle">25</text>
<text transform="translate(394.73 628.8) scale(1 1.03)" font-family='"Liberation Sans", sans-serif' font-size="12.3" text-anchor="middle">30</text>
<text transform="translate(458.23 628.8) scale(1 1.03)" font-family='"Liberation Sans", sans-serif' font-size="12.3" text-anchor="middle">35</text>
<text transform="translate(521.73 628.8) scale(1 1.03)" font-family='"Liberation Sans", sans-serif' font-size="12.3" text-anchor="middle">40</text>
<text transform="translate(585.23 628.8) scale(1 1.03)" font-family='"Liberation Sans", sans-serif' font-size="12.3" text-anchor="middle">45</text>
<text transform="translate(648.73 628.8) scale(1 1.03)" font-family='"Liberation Sans", sans-serif' font-size="12.3" text-anchor="middle">50</text>
<text transform="translate(56.3 26.45) scale(1 1.035)" font-family='"Liberation Sans", sans-serif' font-size="12.3" text-anchor="end">10<tspan dy="-5.2" font-size="10">0</tspan></text>
<text transform="translate(56.3 72.25) scale(1 1.035)" font-family='"Liberation Sans", sans-serif' font-size="12.3" text-anchor="end">10<tspan dy="-5.2" font-size="10">-1</tspan></text>
<text transform="translate(56.3 118.05) scale(1 1.035)" font-family='"Liberation Sans", sans-serif' font-size="12.3" text-anchor="end">10<tspan dy="-5.2" font-size="10">-2</tspan></text>
<text transform="translate(56.3 163.85) scale(1 1.035)" font-family='"Liberation Sans", sans-serif' font-size="12.3" text-anchor="end">10<tspan dy="-5.2" font-size="10">-3</tspan></text>
<text transform="translate(56.3 209.65) scale(1 1.035)" font-family='"Liberation Sans", sans-serif' font-size="12.3" text-anchor="end">10<tspan dy="-5.2" font-size="10">-4</tspan></text>
<text transform="translate(56.3 255.45) scale(1 1.035)" font-family='"Liberation Sans", sans-serif' font-size="12.3" text-anchor="end">10<tspan dy="-5.2" font-size="10">-5</tspan></text>
<text transform="translate(56.3 301.25) scale(1 1.035)" font-family='"Liberation Sans", sans-serif' font-size="12.3" text-anchor="end">10<tspan dy="-5.2" font-size="10">-6</tspan></text>
<text transform="translate(56.3 328.75) scale(1 1.035)" font-family='"Liberation Sans", sans-serif' font-size="12.3" text-anchor="end">10<tspan dy="-5.2" font-size="10">0</tspan></text>
<text transform="translate(56.3 374.55) scale(1 1.035)" font-family='"Liberation Sans", sans-serif' font-size="12.3" text-anchor="end">10<tspan dy="-5.2" font-size="10">-1</tspan></text>
<text transform="translate(56.3 420.35) scale(1 1.035)" font-family='"Liberation Sans", sans-serif' font-size="12.3" text-anchor="end">10<tspan dy="-5.2" font-size="10">-2</tspan></text>
<text transform="translate(56.3 466.15) scale(1 1.035)" font-family='"Liberation Sans", sans-serif' font-size="12.3" text-anchor="end">10<tspan dy="-5.2" font-size="10">-3</tspan></text>
<text transform="translate(56.3 511.95) scale(1 1.035)" font-family='"Liberation Sans", sans-serif' font-size="12.3" text-anchor="end">10<tspan dy="-5.2" font-size="10">-4</tspan></text>
<text transform="translate(56.3 557.75) scale(1 1.035)" font-family='"Liberation Sans", sans-serif' font-size="12.3" text-anchor="end">10<tspan dy="-5.2" font-size="10">-5</tspan></text>
<text transform="translate(56.3 603.55) scale(1 1.035)" font-family='"Liberation Sans", sans-serif' font-size="12.3" text-anchor="end">10<tspan dy="-5.2" font-size="10">-6</tspan></text>
<text transform="translate(349 645.9) scale(1 1.03)" font-family='"Liberation Sans", sans-serif' font-size="17.6" text-anchor="middle">Excitation energy [MeV]</text>
<text transform="translate(22.0 332.1) rotate(-90) scale(1 1.02)" font-family='"Liberation Sans", sans-serif' font-size="17.4" text-anchor="middle">Yield per event</text>
<text transform="translate(432.6 39) scale(1 1.03)" font-size="12.5"><tspan font-family='"Liberation Serif", serif'>&#923; &#923;</tspan><tspan font-family='"Liberation Sans", sans-serif'>-hypernuclei</tspan></text>
<text transform="translate(420.4 341.3) scale(1 1.03)" font-size="12.5"><tspan font-family='"Liberation Sans", sans-serif'>Twin </tspan><tspan font-family='"Liberation Serif", serif'>&#923;</tspan><tspan font-family='"Liberation Sans", sans-serif'>-hypernuclei</tspan></text>
<text transform="translate(394.0 555.4) scale(1 1.03)" font-size="12.5"><tspan font-family='"Liberation Sans", sans-serif'>B</tspan><tspan font-family='"Liberation Serif", serif' font-size="10.8" dy="3.4">&#926;</tspan><tspan font-family='"Liberation Sans", sans-serif' dy="-3.4"> = 0 MeV</tspan></text>
<g id="top-legend">
<text transform="translate(111.8 69.25) scale(1 1.07)" font-family='"Liberation Sans", sans-serif' font-size="10.2" text-anchor="start">4</text>
<text transform="translate(117.7 79.05) scale(1 1.1)" font-family='"Liberation Serif", serif' font-size="8.9" text-anchor="start">&#923;</text>
<text transform="translate(127.2 79.05) scale(1 1.1)" font-family='"Liberation Serif", serif' font-size="8.9" text-anchor="start">&#923;</text>
<text transform="translate(166.1 74.95) scale(1 1.03)" font-family='"Liberation Sans", sans-serif' font-size="12.3" text-anchor="end">H g.s.</text>
<path d="M173.3 71.35H179.1" fill="none" stroke="#ff4500" stroke-width="0.6" stroke-dasharray="1.6 1"/>
<rect x="171.4" y="66.55" width="9.6" height="9.6" fill="none" stroke="#ff4500" stroke-width="0.7"/>
<text transform="translate(112 87.82) scale(1 1.07)" font-family='"Liberation Sans", sans-serif' font-size="10.2" text-anchor="start">5</text>
<text transform="translate(117.7 97.62) scale(1 1.1)" font-family='"Liberation Serif", serif' font-size="8.9" text-anchor="start">&#923;</text>
<text transform="translate(127.2 97.62) scale(1 1.1)" font-family='"Liberation Serif", serif' font-size="8.9" text-anchor="start">&#923;</text>
<text transform="translate(163 93.52) scale(1 1.03)" font-family='"Liberation Sans", sans-serif' font-size="12.3" text-anchor="end">H g.s</text>
<path d="M173.3 89.86H179.1" fill="none" stroke="#ff4500" stroke-width="0.6" stroke-dasharray="1.6 1"/>
<circle cx="176.2" cy="89.86" r="4.4" fill="#ff4500"/>
<text transform="translate(105.6 106.39) scale(1 1.07)" font-family='"Liberation Sans", sans-serif' font-size="10.2" text-anchor="start">5</text>
<text transform="translate(111.6 116.19) scale(1 1.1)" font-family='"Liberation Serif", serif' font-size="8.9" text-anchor="start">&#923;</text>
<text transform="translate(120.3 116.19) scale(1 1.1)" font-family='"Liberation Serif", serif' font-size="8.9" text-anchor="start">&#923;</text>
<text transform="translate(166.1 112.09) scale(1 1.03)" font-family='"Liberation Sans", sans-serif' font-size="12.3" text-anchor="end">He g.s.</text>
<path d="M173.3 108.37H179.1" fill="none" stroke="#808080" stroke-width="0.6" stroke-dasharray="1.6 1"/>
<path d="M176.2 103.55L171.9 110.52L180.5 110.52Z" fill="#808080"/>
<text transform="translate(105.6 124.96) scale(1 1.07)" font-family='"Liberation Sans", sans-serif' font-size="10.2" text-anchor="start">6</text>
<text transform="translate(111.6 134.76) scale(1 1.1)" font-family='"Liberation Serif", serif' font-size="8.9" text-anchor="start">&#923;</text>
<text transform="translate(120.3 134.76) scale(1 1.1)" font-family='"Liberation Serif", serif' font-size="8.9" text-anchor="start">&#923;</text>
<text transform="translate(166.1 130.66) scale(1 1.03)" font-family='"Liberation Sans", sans-serif' font-size="12.3" text-anchor="end">He g.s.</text>
<path d="M173.3 126.88H179.1" fill="none" stroke="#0000ff" stroke-width="0.6" stroke-dasharray="1.6 1"/>
<path d="M176.2 131.7L171.9 124.73L180.5 124.73Z" fill="#0000ff"/>
<text transform="translate(105.8 143.53) scale(1 1.07)" font-family='"Liberation Sans", sans-serif' font-size="10.2" text-anchor="start">7</text>
<text transform="translate(111.6 153.33) scale(1 1.1)" font-family='"Liberation Serif", serif' font-size="8.9" text-anchor="start">&#923;</text>
<text transform="translate(120.3 153.33) scale(1 1.1)" font-family='"Liberation Serif", serif' font-size="8.9" text-anchor="start">&#923;</text>
<text transform="translate(166.1 149.23) scale(1 1.03)" font-family='"Liberation Sans", sans-serif' font-size="12.3" text-anchor="end">He g.s.</text>
<path d="M173.3 145.39H179.1" fill="none" stroke="#00ff00" stroke-width="0.6" stroke-dasharray="1.6 1"/>
<circle cx="176.2" cy="145.39" r="5" fill="none" stroke="#00ff00" stroke-width="0.7"/>
<text transform="translate(105.6 162.1) scale(1 1.07)" font-family='"Liberation Sans", sans-serif' font-size="10.2" text-anchor="start">8</text>
<text transform="translate(111.6 171.9) scale(1 1.1)" font-family='"Liberation Serif", serif' font-size="8.9" text-anchor="start">&#923;</text>
<text transform="translate(120.3 171.9) scale(1 1.1)" font-family='"Liberation Serif", serif' font-size="8.9" text-anchor="start">&#923;</text>
<text transform="translate(166.1 167.8) scale(1 1.03)" font-family='"Liberation Sans", sans-serif' font-size="12.3" text-anchor="end">He g.s.</text>
<path d="M173.3 163.9H179.1" fill="none" stroke="#00ff00" stroke-width="0.6" stroke-dasharray="1.6 1"/>
<path d="M176.2 168.72L171.9 161.75L180.5 161.75Z" fill="#00ff00"/>
<text transform="translate(99 180.67) scale(1 1.07)" font-family='"Liberation Sans", sans-serif' font-size="10.2" text-anchor="start">8</text>
<text transform="translate(104.9 191.07) scale(1 1.1)" font-family='"Liberation Serif", serif' font-size="8.9" text-anchor="start">&#923;</text>
<text transform="translate(114.4 191.07) scale(1 1.1)" font-family='"Liberation Serif", serif' font-size="8.9" text-anchor="start">&#923;</text>
<text transform="translate(166.1 186.37) scale(1 1.03)" font-family='"Liberation Sans", sans-serif' font-size="12.3" text-anchor="end">He ex.s.</text>
<path d="M173.3 182.41H179.1" fill="none" stroke="#ff0000" stroke-width="0.6"/>
<path d="M176.2 177.37L171.7 184.66L180.7 184.66Z" fill="none" stroke="#ff0000" stroke-width="0.7"/>
<text transform="translate(105.6 199.24) scale(1 1.07)" font-family='"Liberation Sans", sans-serif' font-size="10.2" text-anchor="start">9</text>
<text transform="translate(111.6 209.04) scale(1 1.1)" font-family='"Liberation Serif", serif' font-size="8.9" text-anchor="start">&#923;</text>
<text transform="translate(120.5 209.04) scale(1 1.1)" font-family='"Liberation Serif", serif' font-size="8.9" text-anchor="start">&#923;</text>
<text transform="translate(166.1 204.94) scale(1 1.03)" font-family='"Liberation Sans", sans-serif' font-size="12.3" text-anchor="end">He g.s.</text>
<path d="M173.3 200.92H179.1" fill="none" stroke="#000000" stroke-width="0.6" stroke-dasharray="1.6 1"/>
<path d="M176.2 196.57L171.85 200.92L176.2 205.27L180.55 200.92Z" fill="#000000"/>
<text transform="translate(99 217.81) scale(1 1.07)" font-family='"Liberation Sans", sans-serif' font-size="10.2" text-anchor="start">9</text>
<text transform="translate(104.9 227.61) scale(1 1.1)" font-family='"Liberation Serif", serif' font-size="8.9" text-anchor="start">&#923;</text>
<text transform="translate(114.4 227.61) scale(1 1.1)" font-family='"Liberation Serif", serif' font-size="8.9" text-anchor="start">&#923;</text>
<text transform="translate(166.1 223.51) scale(1 1.03)" font-family='"Liberation Sans", sans-serif' font-size="12.3" text-anchor="end">He ex.s.</text>
<path d="M173.3 219.43H179.1" fill="none" stroke="#ff00ff" stroke-width="0.6" stroke-dasharray="1 1.1"/>
<circle cx="176.2" cy="219.43" r="4.6" fill="none" stroke="#ff00ff" stroke-width="0.7"/>
<text transform="translate(111.7 236.38) scale(1 1.07)" font-family='"Liberation Sans", sans-serif' font-size="10.2" text-anchor="start">8</text>
<text transform="translate(117.5 246.18) scale(1 1.1)" font-family='"Liberation Serif", serif' font-size="8.9" text-anchor="start">&#923;</text>
<text transform="translate(126.4 246.18) scale(1 1.1)" font-family='"Liberation Serif", serif' font-size="8.9" text-anchor="start">&#923;</text>
<text transform="translate(166.1 242.08) scale(1 1.03)" font-family='"Liberation Sans", sans-serif' font-size="12.3" text-anchor="end">Li g.s.</text>
<path d="M173.3 237.94H179.1" fill="none" stroke="#ff00ff" stroke-width="0.6" stroke-dasharray="1 1.1"/>
<path d="M176.2 242.76L171.9 235.79L180.5 235.79Z" fill="#ff00ff"/>
<text transform="translate(111.7 254.95) scale(1 1.07)" font-family='"Liberation Sans", sans-serif' font-size="10.2" text-anchor="start">9</text>
<text transform="translate(117.5 264.75) scale(1 1.1)" font-family='"Liberation Serif", serif' font-size="8.9" text-anchor="start">&#923;</text>
<text transform="translate(126.4 264.75) scale(1 1.1)" font-family='"Liberation Serif", serif' font-size="8.9" text-anchor="start">&#923;</text>
<text transform="translate(166.1 260.65) scale(1 1.03)" font-family='"Liberation Sans", sans-serif' font-size="12.3" text-anchor="end">Li g.s.</text>
<path d="M173.3 256.45H179.1" fill="none" stroke="#00ffff" stroke-width="0.6" stroke-dasharray="1.6 1"/>
<path d="M176.2 261.27L171.9 254.3L180.5 254.3Z" fill="#00ffff"/>
<text transform="translate(108.6 273.52) scale(1 1.07)" font-family='"Liberation Sans", sans-serif' font-size="10.2" text-anchor="start">8</text>
<text transform="translate(114.4 283.32) scale(1 1.1)" font-family='"Liberation Serif", serif' font-size="8.9" text-anchor="start">&#923;</text>
<text transform="translate(123.9 283.32) scale(1 1.1)" font-family='"Liberation Serif", serif' font-size="8.9" text-anchor="start">&#923;</text>
<text transform="translate(165.6 279.22) scale(1 1.03)" font-family='"Liberation Sans", sans-serif' font-size="12.3" text-anchor="end">Li ex.s</text>
<path d="M173.3 274.96H179.1" fill="none" stroke="#0000ff" stroke-width="0.6" stroke-dasharray="1.6 1"/>
<rect x="171.7" y="270.46" width="9" height="9" fill="none" stroke="#0000ff" stroke-width="0.7"/>
<text transform="translate(105.6 292.09) scale(1 1.07)" font-family='"Liberation Sans", sans-serif' font-size="10.2" text-anchor="start">9</text>
<text transform="translate(111.1 301.89) scale(1 1.1)" font-family='"Liberation Serif", serif' font-size="8.9" text-anchor="start">&#923;</text>
<text transform="translate(120.4 301.89) scale(1 1.1)" font-family='"Liberation Serif", serif' font-size="8.9" text-anchor="start">&#923;</text>
<text transform="translate(166.1 297.79) scale(1 1.03)" font-family='"Liberation Sans", sans-serif' font-size="12.3" text-anchor="end">Li ex.s.</text>
<path d="M173.3 293.47H179.1" fill="none" stroke="#808080" stroke-width="0.6" stroke-dasharray="1.6 1"/>
<circle cx="176.2" cy="293.47" r="4.45" fill="none" stroke="#808080" stroke-width="0.7"/>
</g>
<g id="bot-legend">
<text transform="translate(85.6 346.6) scale(1 1.07)" font-family='"Liberation Sans", sans-serif' font-size="10.2" text-anchor="start">3</text>
<text transform="translate(91.9 355.1) scale(1 1.1)" font-family='"Liberation Serif", serif' font-size="8.9" text-anchor="start">&#923;</text>
<text transform="translate(98.3 351.4) scale(1 1.03)" font-family='"Liberation Sans", sans-serif' font-size="12.3" text-anchor="start">H +</text>
<text transform="translate(122 346.6) scale(1 1.07)" font-family='"Liberation Sans", sans-serif' font-size="10.2" text-anchor="start">3</text>
<text transform="translate(128 355.1) scale(1 1.1)" font-family='"Liberation Serif", serif' font-size="8.9" text-anchor="start">&#923;</text>
<text transform="translate(166.1 351.4) scale(1 1.03)" font-family='"Liberation Sans", sans-serif' font-size="12.3" text-anchor="end" xml:space="preserve">H g.s.</text>
<path d="M173.3 347.5H179.1" fill="none" stroke="#ff0000" stroke-width="0.6"/>
<path d="M176.2 342.46L171.7 349.75L180.7 349.75Z" fill="none" stroke="#ff0000" stroke-width="0.7"/>
<text transform="translate(85.6 365.1) scale(1 1.07)" font-family='"Liberation Sans", sans-serif' font-size="10.2" text-anchor="start">3</text>
<text transform="translate(91.9 373.6) scale(1 1.1)" font-family='"Liberation Serif", serif' font-size="8.9" text-anchor="start">&#923;</text>
<text transform="translate(98.3 369.9) scale(1 1.03)" font-family='"Liberation Sans", sans-serif' font-size="12.3" text-anchor="start">H +</text>
<text transform="translate(121.5 365.1) scale(1 1.07)" font-family='"Liberation Sans", sans-serif' font-size="10.2" text-anchor="start">4</text>
<text transform="translate(127.6 373.6) scale(1 1.1)" font-family='"Liberation Serif", serif' font-size="8.9" text-anchor="start">&#923;</text>
<text transform="translate(166.1 369.9) scale(1 1.03)" font-family='"Liberation Sans", sans-serif' font-size="12.3" text-anchor="end" xml:space="preserve">H g.s.</text>
<path d="M173.3 366H179.1" fill="none" stroke="#00ff00" stroke-width="0.6" stroke-dasharray="1.6 1"/>
<path d="M176.2 370.82L171.9 363.85L180.5 363.85Z" fill="#00ff00"/>
<text transform="translate(79.8 383.6) scale(1 1.07)" font-family='"Liberation Sans", sans-serif' font-size="10.2" text-anchor="start">4</text>
<text transform="translate(85.5 392.1) scale(1 1.1)" font-family='"Liberation Serif", serif' font-size="8.9" text-anchor="start">&#923;</text>
<text transform="translate(91.7 388.4) scale(1 1.03)" font-family='"Liberation Sans", sans-serif' font-size="12.3" text-anchor="start">H +</text>
<text transform="translate(115 383.6) scale(1 1.07)" font-family='"Liberation Sans", sans-serif' font-size="10.2" text-anchor="start">6</text>
<text transform="translate(120.5 392.1) scale(1 1.1)" font-family='"Liberation Serif", serif' font-size="8.9" text-anchor="start">&#923;</text>
<text transform="translate(166.1 388.4) scale(1 1.03)" font-family='"Liberation Sans", sans-serif' font-size="12.3" text-anchor="end" xml:space="preserve">He g.s.</text>
<path d="M173.3 384.5H179.1" fill="none" stroke="#808080" stroke-width="0.6" stroke-dasharray="1.6 1"/>
<circle cx="176.2" cy="384.5" r="4.45" fill="none" stroke="#808080" stroke-width="0.7"/>
<text transform="translate(165.6 406.9) scale(1 1.03)" font-family='"Liberation Sans", sans-serif' font-size="12.3" text-anchor="end" xml:space="preserve">-- g.s +&#160; ex.s</text>
<path d="M173.3 403H179.1" fill="none" stroke="#ff00ff" stroke-width="0.6" stroke-dasharray="1 1.1"/>
<circle cx="176.2" cy="403" r="4.6" fill="none" stroke="#ff00ff" stroke-width="0.7"/>
<text transform="translate(79.6 420.6) scale(1 1.07)" font-family='"Liberation Sans", sans-serif' font-size="10.2" text-anchor="start">3</text>
<text transform="translate(85.5 429.1) scale(1 1.1)" font-family='"Liberation Serif", serif' font-size="8.9" text-anchor="start">&#923;</text>
<text transform="translate(91.7 425.4) scale(1 1.03)" font-family='"Liberation Sans", sans-serif' font-size="12.3" text-anchor="start">H +</text>
<text transform="translate(115 420.6) scale(1 1.07)" font-family='"Liberation Sans", sans-serif' font-size="10.2" text-anchor="start">7</text>
<text transform="translate(120.5 429.1) scale(1 1.1)" font-family='"Liberation Serif", serif' font-size="8.9" text-anchor="start">&#923;</text>
<text transform="translate(166.1 425.4) scale(1 1.03)" font-family='"Liberation Sans", sans-serif' font-size="12.3" text-anchor="end" xml:space="preserve">He g.s.</text>
<path d="M173.3 421.5H179.1" fill="none" stroke="#ff4500" stroke-width="0.6" stroke-dasharray="1.6 1"/>
<rect x="171.4" y="416.7" width="9.6" height="9.6" fill="none" stroke="#ff4500" stroke-width="0.7"/>
<text transform="translate(165.6 443.9) scale(1 1.03)" font-family='"Liberation Sans", sans-serif' font-size="12.3" text-anchor="end" xml:space="preserve">-- g.s +&#160; ex.s</text>
<path d="M173.3 440H179.1" fill="none" stroke="#ff4500" stroke-width="0.6" stroke-dasharray="1.6 1"/>
<circle cx="176.2" cy="440" r="4.4" fill="#ff4500"/>
<text transform="translate(79.8 457.6) scale(1 1.07)" font-family='"Liberation Sans", sans-serif' font-size="10.2" text-anchor="start">4</text>
<text transform="translate(85.5 466.1) scale(1 1.1)" font-family='"Liberation Serif", serif' font-size="8.9" text-anchor="start">&#923;</text>
<text transform="translate(91.7 462.4) scale(1 1.03)" font-family='"Liberation Sans", sans-serif' font-size="12.3" text-anchor="start">H +</text>
<text transform="translate(115 457.6) scale(1 1.07)" font-family='"Liberation Sans", sans-serif' font-size="10.2" text-anchor="start">5</text>
<text transform="translate(120.5 466.1) scale(1 1.1)" font-family='"Liberation Serif", serif' font-size="8.9" text-anchor="start">&#923;</text>
<text transform="translate(166.1 462.4) scale(1 1.03)" font-family='"Liberation Sans", sans-serif' font-size="12.3" text-anchor="end" xml:space="preserve">He g.s.</text>
<path d="M173.3 458.5H179.1" fill="none" stroke="#000000" stroke-width="0.6" stroke-dasharray="1.6 1"/>
<path d="M176.2 454.15L171.85 458.5L176.2 462.85L180.55 458.5Z" fill="#000000"/>
<text transform="translate(166.1 480.9) scale(1 1.03)" font-family='"Liberation Sans", sans-serif' font-size="12.3" text-anchor="end" xml:space="preserve">-- ex.s. + g.s.</text>
<path d="M173.3 477H179.1" fill="none" stroke="#00ffff" stroke-width="0.6" stroke-dasharray="1.6 1"/>
<path d="M176.2 472.18L171.9 479.15L180.5 479.15Z" fill="#00ffff"/>
<text transform="translate(86 494.6) scale(1 1.07)" font-family='"Liberation Sans", sans-serif' font-size="10.2" text-anchor="start">4</text>
<text transform="translate(91.7 503.1) scale(1 1.1)" font-family='"Liberation Serif", serif' font-size="8.9" text-anchor="start">&#923;</text>
<text transform="translate(98.2 499.4) scale(1 1.03)" font-family='"Liberation Sans", sans-serif' font-size="12.3" text-anchor="start">H +</text>
<text transform="translate(121.5 494.6) scale(1 1.07)" font-family='"Liberation Sans", sans-serif' font-size="10.2" text-anchor="start">4</text>
<text transform="translate(127.1 503.1) scale(1 1.1)" font-family='"Liberation Serif", serif' font-size="8.9" text-anchor="start">&#923;</text>
<text transform="translate(166.1 499.4) scale(1 1.03)" font-family='"Liberation Sans", sans-serif' font-size="12.3" text-anchor="end" xml:space="preserve">H g.s.</text>
<path d="M173.3 495.5H179.1" fill="none" stroke="#00ffff" stroke-width="0.6" stroke-dasharray="1.6 1"/>
<rect x="171.6" y="490.9" width="9.2" height="9.2" fill="none" stroke="#00ffff" stroke-width="0.7"/>
<text transform="translate(95.4 513.1) scale(1 1.07)" font-family='"Liberation Sans", sans-serif' font-size="10.2" text-anchor="start">-</text>
<text transform="translate(166.1 517.9) scale(1 1.03)" font-family='"Liberation Sans", sans-serif' font-size="12.3" text-anchor="end" xml:space="preserve">- ex.s&#160; + g.s.</text>
<path d="M173.3 514H179.1" fill="none" stroke="#ff00ff" stroke-width="0.6" stroke-dasharray="1 1.1"/>
<path d="M176.2 518.82L171.9 511.85L180.5 511.85Z" fill="#ff00ff"/>
<text transform="translate(162.3 536.4) scale(1 1.03)" font-family='"Liberation Sans", sans-serif' font-size="12.3" text-anchor="end" xml:space="preserve">-- ex.s. + ex.s</text>
<path d="M173.3 532.5H179.1" fill="none" stroke="#0000ff" stroke-width="0.6" stroke-dasharray="1.6 1"/>
<circle cx="176.2" cy="532.5" r="4.4" fill="#0000ff"/>
</g>
</svg>
</body></html>
